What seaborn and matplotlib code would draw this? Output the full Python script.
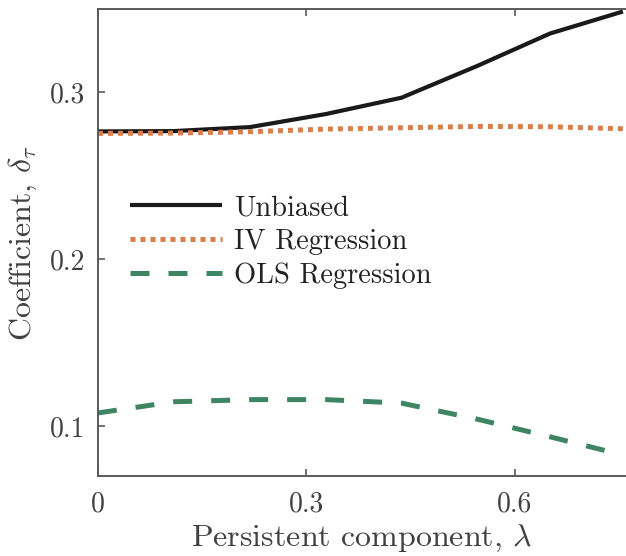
import numpy as np
import pandas as pd
import matplotlib
matplotlib.use("Agg")
import matplotlib.pyplot as plt
import seaborn as sns

# ---- data ----
lam = [0.0, 0.109, 0.219, 0.328, 0.437, 0.547, 0.651, 0.756]
unbiased = [0.2766, 0.2768, 0.2792, 0.2870, 0.2968, 0.3160, 0.3353, 0.3485]
iv = [0.2754, 0.2756, 0.2764, 0.2780, 0.2788, 0.2796, 0.2794, 0.2782]
ols = [0.1078, 0.1145, 0.1158, 0.1158, 0.1137, 0.1040, 0.0935, 0.0826]
series_names = ["Unbiased", "IV Regression", "OLS Regression"]
xticks = [0, 0.3, 0.6]
xticklabels = ["0", "0.3", "0.6"]
yticks = [0.1, 0.2, 0.3]
yticklabels = ["0.1", "0.2", "0.3"]

df = pd.DataFrame({
    "lam": lam * 3,
    "coef": unbiased + iv + ols,
    "series": [series_names[0]] * len(lam) + [series_names[1]] * len(lam) + [series_names[2]] * len(lam),
})

sns.set_theme(style="ticks")
plt.rcParams["font.family"] = ["cmr10", "DejaVu Serif"]
plt.rcParams["mathtext.fontset"] = "cm"
plt.rcParams["axes.formatter.use_mathtext"] = True

txt = "#404040"
spine = "#5a5a5a"

fig = plt.figure(figsize=(6.26, 5.56), dpi=100)
ax = fig.add_axes([0.1565, 0.1439, 0.8430, 0.8399])

palette = {"Unbiased": "#1a1a1a", "IV Regression": "#d9804a", "OLS Regression": "#3d8563"}
sns.lineplot(data=df, x="lam", y="coef", hue="series", palette=palette, ax=ax,
             legend=False, sort=False)

lines = ax.get_lines()
styles = [(3.0, "-"), (3.6, (0, (1, 1.0))), (3.6, (0, (3.8, 3.8)))]
for ln, (lw, ls) in zip(lines, styles):
    ln.set_linewidth(lw)
    ln.set_linestyle(ls)
    ln.set_solid_capstyle("butt")
    ln.set_dash_capstyle("butt")

ax.set_xlim(0, 0.76)
ax.set_ylim(0.07, 0.35)
ax.set_xticks(xticks)
ax.set_xticklabels(xticklabels)
ax.set_yticks(yticks)
ax.set_yticklabels(yticklabels)

ax.tick_params(direction="in", length=5, width=1.2, colors=spine, labelcolor=txt,
               labelsize=20, top=True, right=False)
ax.tick_params(axis="x", pad=11)
ax.tick_params(axis="y", pad=9)
for s in ["left", "bottom", "top"]:
    ax.spines[s].set_color(spine)
    ax.spines[s].set_linewidth(1.4)
ax.spines["right"].set_visible(False)

ax.set_xlabel(r"Persistent component, $\lambda$", fontsize=23, color=txt, labelpad=4)
ax.set_ylabel(r"Coefficient, $\delta_\tau$", fontsize=23, color=txt, labelpad=8)

leg = ax.legend(lines, series_names, loc="upper left", bbox_to_anchor=(0.04, 0.626),
                frameon=False, fontsize=20.5, handlelength=3.2, handletextpad=0.45,
                labelspacing=0.26, borderaxespad=0)
for t in leg.get_texts():
    t.set_color("#222222")

fig.savefig("out.png", dpi=100)
